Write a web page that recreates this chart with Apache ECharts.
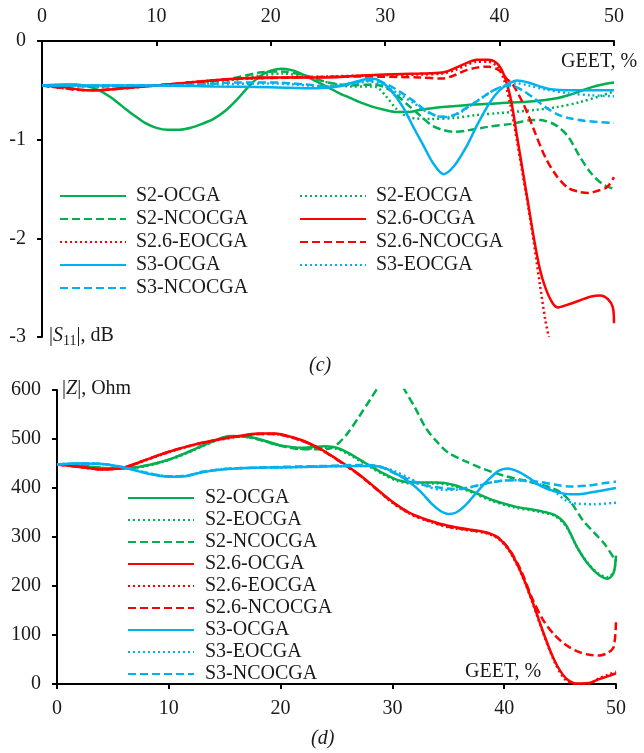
<!DOCTYPE html>
<html><head><meta charset="utf-8">
<script src="https://cdn.jsdelivr.net/npm/echarts@6/dist/echarts.min.js"></script>
<style>html,body{margin:0;padding:0;background:#fff}#c{width:644px;height:753px}</style>
</head><body><div id="c"></div><script>
// ---------- tick setup ----------
const xTicks = {min: 0, max: 50, interval: 10};
const s11Ticks = {min: -3, max: 0, interval: 1};
const zTicks = {min: 0, max: 600, interval: 100};

// ---------- series names ----------
const names = ['S2-OCGA','S2-EOCGA','S2-NCOCGA','S2.6-OCGA','S2.6-EOCGA','S2.6-NCOCGA','S3-OCGA','S3-EOCGA','S3-NCOCGA'];

// ---------- panel (c): |S11|, dB vs GEET, % ----------
const s11_S2_OCGA = [[0,-0.45],[2,-0.44],[3,-0.44],[4,-0.46],[5,-0.5],[6,-0.57],[7,-0.66],[8,-0.75],[9,-0.83],[10,-0.88],[11,-0.9],[12,-0.9],[13,-0.88],[14,-0.84],[15,-0.79],[16,-0.71],[17,-0.6],[18,-0.47],[19,-0.36],[20,-0.3],[21,-0.28],[22,-0.3],[23,-0.35],[24,-0.41],[25,-0.47],[26,-0.53],[27,-0.58],[28,-0.63],[29,-0.67],[30,-0.7],[31,-0.72],[32,-0.72],[33,-0.7],[35,-0.67],[37,-0.65],[40,-0.63],[43,-0.61],[45,-0.58],[46,-0.55],[47,-0.51],[48,-0.47],[49,-0.44],[50,-0.42]];
const s11_S2_EOCGA = [[0,-0.45],[5,-0.46],[10,-0.45],[14,-0.43],[17,-0.39],[19,-0.35],[21,-0.33],[23,-0.36],[25,-0.42],[27,-0.46],[28.5,-0.46],[29.3,-0.47],[30,-0.55],[31,-0.69],[32,-0.77],[34,-0.79],[36,-0.78],[38,-0.75],[40,-0.73],[43,-0.7],[45,-0.67],[47,-0.62],[49,-0.55],[50,-0.51]];
const s11_S2_NCOCGA = [[0,-0.45],[5,-0.46],[10,-0.45],[14,-0.42],[17,-0.37],[19,-0.32],[21,-0.31],[23,-0.35],[25,-0.42],[27,-0.45],[29,-0.44],[30,-0.47],[31,-0.55],[32,-0.65],[33,-0.75],[34,-0.85],[35,-0.9],[36,-0.92],[37,-0.91],[39,-0.87],[41,-0.84],[43,-0.8],[44,-0.81],[45,-0.86],[46,-0.97],[47,-1.17],[48,-1.34],[49,-1.45],[50,-1.5]];
const s11_S26_OCGA = [[0,-0.45],[2,-0.47],[4,-0.5],[5,-0.5],[7,-0.48],[10,-0.45],[13,-0.42],[16,-0.39],[19,-0.37],[22,-0.37],[25,-0.37],[28,-0.35],[30,-0.34],[33,-0.33],[35,-0.32],[36,-0.28],[37,-0.23],[38,-0.19],[39,-0.19],[39.8,-0.23],[40.4,-0.35],[41,-0.6],[41.5,-0.95],[42,-1.3],[42.5,-1.65],[43,-2.0],[43.5,-2.3],[44,-2.5],[44.6,-2.65],[45.1,-2.7],[46,-2.67],[47,-2.63],[48,-2.59],[48.8,-2.58],[49.5,-2.62],[49.9,-2.7],[50,-2.86]];
const s11_S26_EOCGA = [[0,-0.45],[4,-0.5],[10,-0.45],[16,-0.39],[22,-0.37],[28,-0.35],[33,-0.34],[35,-0.33],[36,-0.3],[37,-0.25],[38,-0.21],[39,-0.21],[39.8,-0.26],[40.4,-0.4],[41,-0.68],[41.5,-1.0],[42,-1.34],[42.5,-1.68],[43,-2.05],[43.5,-2.45],[44,-2.83],[44.3,-3.0]];
const s11_S26_NCOCGA = [[0,-0.45],[4,-0.5],[10,-0.45],[16,-0.39],[22,-0.37],[28,-0.36],[33,-0.37],[35,-0.38],[36,-0.35],[37,-0.3],[38,-0.27],[39,-0.26],[40,-0.3],[40.6,-0.38],[41.2,-0.45],[42,-0.62],[42.5,-0.75],[43,-0.9],[44,-1.18],[45,-1.37],[46,-1.49],[47,-1.53],[47.8,-1.54],[48.5,-1.52],[49.4,-1.48],[50,-1.38]];
const s11_S3_OCGA = [[0,-0.45],[5,-0.45],[10,-0.45],[15,-0.46],[20,-0.47],[24,-0.48],[26,-0.46],[27.5,-0.41],[28.7,-0.38],[29.5,-0.4],[30.5,-0.5],[31.5,-0.66],[32.5,-0.88],[33.3,-1.05],[34.2,-1.24],[35.1,-1.35],[36,-1.27],[37.1,-1.07],[38,-0.86],[38.9,-0.67],[39.6,-0.55],[40.3,-0.47],[41,-0.42],[41.5,-0.4],[42.5,-0.42],[43.5,-0.46],[44.5,-0.49],[46,-0.5],[48,-0.5],[50,-0.5]];
const s11_S3_EOCGA = [[0,-0.45],[5,-0.45],[10,-0.45],[15,-0.44],[20,-0.43],[25,-0.46],[27,-0.44],[28.5,-0.41],[29.5,-0.43],[30.5,-0.49],[31.5,-0.56],[32.5,-0.63],[33.5,-0.71],[34.5,-0.76],[35.5,-0.77],[36.5,-0.73],[37.5,-0.65],[38.5,-0.57],[39.5,-0.5],[40.5,-0.45],[41.5,-0.43],[42.5,-0.45],[44,-0.49],[46,-0.53],[48,-0.55],[50,-0.56]];
const s11_S3_NCOCGA = [[0,-0.45],[5,-0.45],[10,-0.45],[14,-0.44],[17,-0.42],[20,-0.42],[23,-0.44],[25,-0.46],[27,-0.43],[28.5,-0.4],[29.5,-0.41],[30.5,-0.46],[31.5,-0.53],[32.5,-0.61],[33.5,-0.7],[34.5,-0.76],[35.3,-0.77],[36.2,-0.74],[37.2,-0.67],[38.3,-0.59],[39.3,-0.51],[40.3,-0.46],[41,-0.45],[42,-0.5],[43,-0.58],[44,-0.67],[45,-0.74],[46,-0.78],[47.5,-0.81],[50,-0.83]];

// ---------- panel (d): |Z|, Ohm vs GEET, % ----------
const z_S2_OCGA = [[0,448],[2,446],[4,441],[6,440],[8,446],[10,458],[12,476],[14,496],[15.5,506],[17,505],[18.5,497],[20,487],[22,482],[24,485],[25,482],[26,472],[27.5,452],[29,432],[30.5,416],[32,411],[34,411],[35.5,406],[37,394],[39,375],[41,362],[43,354],[44.5,345],[45.5,325],[46.5,280],[47.5,245],[48.5,222],[49.3,215],[49.8,228],[50,262]];
const z_S2_EOCGA = [[0,448],[2,446],[4,441],[6,440],[8,445],[10,457],[12,475],[14,495],[15.5,505],[17,504],[18.5,496],[20,486],[22,480],[24,482],[25,480],[26,470],[27.5,450],[29,430],[30.5,414],[32,409],[34,409],[35.5,404],[37,392],[39,373],[41,360],[43,352],[44.5,343],[45.5,323],[46.5,280],[47.5,246],[48.5,224],[49.3,218],[49.8,230],[50,260]];
const z_S2_NCOCGA = [[0,448],[2,446],[4,441],[6,440],[8,446],[10,458],[12,476],[14,496],[15.5,505],[17,504],[18.5,496],[20,486],[22,479],[24,479],[25,488],[26,512],[27,545],[28,580],[28.7,605],[29.3,625],[30,632],[30.6,622],[31.1,600],[32,565],[33,522],[34,494],[35,472],[36.5,455],[38,440],[40,425],[42,414],[44,402],[45,392],[46,370],[47,335],[48,310],[49,285],[50,250]];
const z_S26_OCGA = [[0,448],[2,443],[4,438],[6,442],[8,458],[10,474],[12,487],[14,497],[16,505],[18,511],[19.5,511],[21,504],[22.5,492],[24,474],[25.5,452],[27,428],[28.5,400],[30,372],[31.5,350],[33,336],[35,323],[37,315],[38.5,309],[39.5,298],[40.5,272],[41.5,228],[42.5,170],[43.5,105],[44.5,48],[45.5,12],[46.5,1],[47.5,2],[48.5,10],[49.3,16],[50,22]];
const z_S26_EOCGA = [[0,448],[2,443],[4,438],[6,442],[8,457],[10,473],[12,486],[14,496],[16,504],[18,510],[19.5,510],[21,503],[22.5,491],[24,473],[25.5,451],[27,427],[28.5,399],[30,370],[31.5,348],[33,334],[35,320],[37,313],[38.5,307],[39.5,296],[40.5,270],[41.5,226],[42.5,168],[43.5,103],[44.5,45],[45.5,8],[46.5,0],[47.5,0],[48.5,12],[49.3,19],[50,25]];
const z_S26_NCOCGA = [[0,448],[2,443],[4,438],[6,442],[8,458],[10,474],[12,487],[14,497],[16,505],[18,510],[19.5,510],[21,503],[22.5,491],[24,473],[25.5,451],[27,427],[28.5,399],[30,371],[31.5,349],[33,335],[35,321],[37,314],[38.5,308],[39.5,298],[40.5,273],[41.5,232],[42.5,175],[43.5,130],[44.5,100],[45.5,80],[46.5,67],[47.5,60],[48.5,58],[49.3,64],[49.8,76],[50,128]];
const z_S3_OCGA = [[0,448],[2,450],[4,449],[6,442],[8,430],[10,423],[11.5,424],[13,432],[15,438],[17,441],[20,442],[24,444],[27,445],[28.5,445],[29.5,439],[30.5,427],[31.5,412],[32.5,393],[33.5,368],[34.3,353],[35,347],[35.7,350],[36.5,364],[37.5,390],[38.5,415],[39.5,435],[40.3,440],[41.2,434],[42.2,421],[43.2,405],[44.5,393],[45.5,388],[46.5,387],[48,392],[50,400]];
const z_S3_EOCGA = [[0,448],[2,450],[4,449],[6,442],[8,431],[10,424],[11.5,425],[13,433],[15,439],[17,441],[20,442],[24,444],[27,445],[28.5,444],[30,436],[31.5,420],[33,404],[34.5,396],[36,397],[37.5,404],[39,412],[40.5,416],[42,414],[43.5,405],[44.5,393],[45.5,375],[46.5,368],[48,367],[50,370]];
const z_S3_NCOCGA = [[0,448],[2,450],[4,449],[6,442],[8,431],[10,424],[11.5,425],[13,433],[15,439],[17,441],[20,443],[24,445],[27,447],[28.5,446],[30,432],[31.5,417],[33,405],[34.5,400],[35.5,398],[37,402],[38.5,410],[40,415],[41.5,416],[43,413],[44.5,407],[46,403],[47.5,405],[49,410],[50,413]];

const s11Data = [s11_S2_OCGA,s11_S2_EOCGA,s11_S2_NCOCGA,s11_S26_OCGA,s11_S26_EOCGA,s11_S26_NCOCGA,s11_S3_OCGA,s11_S3_EOCGA,s11_S3_NCOCGA];
const zData = [z_S2_OCGA,z_S2_EOCGA,z_S2_NCOCGA,z_S26_OCGA,z_S26_EOCGA,z_S26_NCOCGA,z_S3_OCGA,z_S3_EOCGA,z_S3_NCOCGA];

// ---------- styles ----------
const GREEN = '#00B050', RED = '#FF0000', BLUE = '#00B0F0';
const colorOf = [GREEN,GREEN,GREEN,RED,RED,RED,BLUE,BLUE,BLUE];
const SOLID = 'solid', DOT = [2, 3], DASH = [8, 4];
const dashOf = [SOLID,DOT,DASH,SOLID,DOT,DASH,SOLID,DOT,DASH];
const FONT = '"Liberation Serif","Times New Roman",serif';
const TXT = '#1a1a1a';

function mkSeries(data, i, axisIdx) {
  return {
    type: 'line', name: names[i], data: data,
    xAxisIndex: axisIdx, yAxisIndex: axisIdx,
    symbol: 'none', smooth: 0.3, clip: true,
    lineStyle: {color: colorOf[i], width: 2.5, type: dashOf[i], cap: 'butt'},
    itemStyle: {color: colorOf[i]},
    emphasis: {disabled: true}, silent: true, animation: false
  };
}
const series = [];
s11Data.forEach((d, i) => series.push(mkSeries(d, i, 0)));
zData.forEach((d, i) => series.push(mkSeries(d, i, 1)));

const axisLine = {show: true, onZero: false, lineStyle: {color: '#000', width: 2}};
const axisLabel = {color: TXT, fontFamily: FONT, fontSize: 20};
const legendBase = {
  orient: 'vertical', padding: 0, itemWidth: 66, itemHeight: 14,
  selectedMode: false,
  itemStyle: {opacity: 0, borderWidth: 0},
  textStyle: {color: TXT, fontFamily: FONT, fontSize: 20, lineHeight: 20, padding: [0,0,0,5]}
};

const chart = echarts.init(document.getElementById('c'), null, {renderer: 'canvas'});
chart.setOption({
  backgroundColor: '#fff',
  animation: false,
  grid: [
    {left: 42, right: 30, top: 41, height: 296},
    {left: 57, right: 28, top: 390, height: 294}
  ],
  xAxis: [
    {type: 'value', gridIndex: 0, position: 'top', min: xTicks.min, max: xTicks.max, interval: xTicks.interval,
     axisLine: axisLine, axisTick: {show: true, inside: true, length: 5, lineStyle: {color: '#000', width: 2}},
     axisLabel: Object.assign({margin: 14}, axisLabel), splitLine: {show: false}},
    {type: 'value', gridIndex: 1, position: 'bottom', min: xTicks.min, max: xTicks.max, interval: xTicks.interval,
     axisLine: axisLine, axisTick: {show: true, inside: false, length: 5, lineStyle: {color: '#000', width: 2}},
     axisLabel: Object.assign({margin: 15}, axisLabel), splitLine: {show: false}}
  ],
  yAxis: [
    {type: 'value', gridIndex: 0, min: s11Ticks.min, max: s11Ticks.max, interval: s11Ticks.interval,
     axisLine: axisLine, axisTick: {show: true, inside: false, length: 5, lineStyle: {color: '#000', width: 2}},
     axisLabel: Object.assign({margin: 16}, axisLabel), splitLine: {show: false}},
    {type: 'value', gridIndex: 1, min: zTicks.min, max: zTicks.max, interval: zTicks.interval,
     axisLine: axisLine, axisTick: {show: true, inside: false, length: 5, lineStyle: {color: '#000', width: 2}},
     axisLabel: Object.assign({margin: 16}, axisLabel), splitLine: {show: false}}
  ],
  legend: [
    Object.assign({}, legendBase, {left: 59, top: 186, itemGap: 3,
      data: ['S2-OCGA','S2-NCOCGA','S2.6-EOCGA','S3-OCGA','S3-NCOCGA']}),
    Object.assign({}, legendBase, {left: 299, top: 186, itemGap: 3,
      data: ['S2-EOCGA','S2.6-OCGA','S2.6-NCOCGA','S3-EOCGA']}),
    Object.assign({}, legendBase, {left: 127, top: 488, itemGap: 2,
      textStyle: Object.assign({}, legendBase.textStyle, {padding: [0,0,0,6]}),
      data: names})
  ],
  graphic: [
    {type: 'text', left: 561, top: 52, silent: true,
     style: {text: 'GEET, %', fill: TXT, font: '20px ' + FONT}},
    {type: 'text', left: 49, top: 326, silent: true,
     style: {text: '{n||}{i|S}{s|11}{n||, dB}', fill: TXT, font: '20px ' + FONT,
       rich: {
         n: {fontFamily: FONT, fontSize: 20, lineHeight: 22, verticalAlign: 'top', fill: TXT},
         i: {fontFamily: FONT, fontSize: 20, fontStyle: 'italic', lineHeight: 22, verticalAlign: 'top', fill: TXT},
         s: {fontFamily: FONT, fontSize: 14, lineHeight: 14, verticalAlign: 'bottom', fill: TXT}
       }}},
    {type: 'text', left: 62, top: 379, silent: true,
     style: {text: '{n||}{i|Z}{n||, Ohm}', fill: TXT, font: '20px ' + FONT,
       rich: {
         n: {fontFamily: FONT, fontSize: 20, fill: TXT},
         i: {fontFamily: FONT, fontSize: 20, fontStyle: 'italic', fill: TXT}
       }}},
    {type: 'text', left: 465, top: 662, silent: true,
     style: {text: 'GEET, %', fill: TXT, font: '20px ' + FONT}},
    {type: 'text', left: 309, top: 356, silent: true,
     style: {text: '(c)', fill: TXT, font: 'italic 20px ' + FONT}},
    {type: 'text', left: 311, top: 729, silent: true,
     style: {text: '(d)', fill: TXT, font: 'italic 20px ' + FONT}}
  ],
  series: series
});
</script></body></html>
